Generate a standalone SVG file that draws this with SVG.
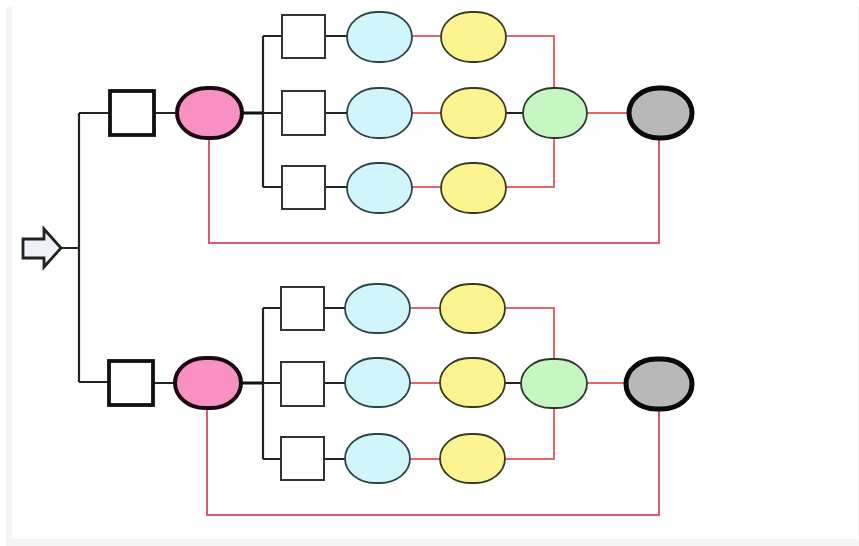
<svg xmlns="http://www.w3.org/2000/svg" width="859" height="546" viewBox="0 0 859 546">
<style>
.blk{fill:none;stroke:#222;stroke-width:2.2}
.thk{fill:none;stroke:#111;stroke-width:3}
.red{fill:none;stroke:#e06868;stroke-width:2}
.loop{fill:none;stroke:#d0606c;stroke-width:2}
.sq{fill:#fff;stroke:#333;stroke-width:2}
.bsq{fill:#fff;stroke:#111;stroke-width:3.8}
.pink{fill:#f890c4;stroke:#1a0810;stroke-width:4}
.cyan{fill:#d0f5fb;stroke:#2a4448;stroke-width:1.8}
.yel{fill:#fcf490;stroke:#3a3820;stroke-width:1.8}
.grn{fill:#c6f7c2;stroke:#2a3a2a;stroke-width:1.8}
.gry{fill:#b8b8b8;stroke:#0a0a0a;stroke-width:5}
</style>
<rect x="6" y="7" width="853" height="539" fill="#f0f0f0"/>
<rect x="6" y="7" width="853" height="539" fill="#f5f5f5"/>
<rect x="12" y="7" width="846" height="532" fill="#ffffff"/>
<g id="connectors">
<path class="blk" d="M62 248H79M79 113V382M79 113H110M79 382H109"/>
<path class="blk" d="M154 113H177M153 383H175"/>
<path class="thk" d="M242 113H263M242 383H263"/>
<path class="blk" d="M263 36V187M263 36H282M263 113H282M263 187H282"/>
<path class="blk" d="M263 308V459M263 308H281M263 383H281M263 459H281"/>
<path class="blk" d="M325 36H347M325 113H347M325 187H347M324 308H345M324 383H345M324 459H345"/>
<path class="red" d="M412 36H441M412 113H441M412 187H441M410 308H440M410 383H440M410 459H440"/>
<path class="red" d="M506 36H554V87M506 187H554V137M505 308H554V359M505 459H554V408"/>
<path class="blk" d="M506 113H523M505 383H521"/>
<path class="red" d="M587 113H629M587 383H626"/>
<path class="loop" d="M209 138V243H659V139M207 408V515H659V410"/>
</g>
<g id="arrow"><path d="M23 239H44V229L61 248L44 267V258H23Z" fill="#eef2f8" stroke="#222" stroke-width="2.8" stroke-linejoin="miter"/></g>
<g id="sq1"><rect class="bsq" x="110" y="91" width="44" height="44"/></g>
<g id="pink1"><rect class="pink" x="177" y="88" width="65" height="50" rx="30" ry="25"/></g>
<g id="s11"><rect class="sq" x="282" y="15" width="43" height="43"/></g>
<g id="s12"><rect class="sq" x="282" y="91" width="43" height="44"/></g>
<g id="s13"><rect class="sq" x="282" y="166" width="43" height="43"/></g>
<g id="c11"><rect class="cyan" x="347" y="12" width="65" height="50" rx="30" ry="25"/></g>
<g id="c12"><rect class="cyan" x="347" y="88" width="65" height="50" rx="30" ry="25"/></g>
<g id="c13"><rect class="cyan" x="347" y="163" width="65" height="50" rx="30" ry="25"/></g>
<g id="y11"><rect class="yel" x="441" y="12" width="65" height="50" rx="30" ry="25"/></g>
<g id="y12"><rect class="yel" x="441" y="88" width="65" height="50" rx="30" ry="25"/></g>
<g id="y13"><rect class="yel" x="441" y="163" width="65" height="50" rx="30" ry="25"/></g>
<g id="g1"><rect class="grn" x="523" y="88" width="64" height="50" rx="30" ry="25"/></g>
<g id="gr1"><rect class="gry" x="629" y="88" width="63" height="50" rx="30" ry="25"/></g>
<g id="sq2"><rect class="bsq" x="109" y="361" width="44" height="44"/></g>
<g id="pink2"><rect class="pink" x="175" y="358" width="66" height="50" rx="30" ry="25"/></g>
<g id="s21"><rect class="sq" x="281" y="287" width="43" height="43"/></g>
<g id="s22"><rect class="sq" x="281" y="362" width="43" height="44"/></g>
<g id="s23"><rect class="sq" x="281" y="437" width="43" height="43"/></g>
<g id="c21"><rect class="cyan" x="345" y="284" width="65" height="49" rx="30" ry="25"/></g>
<g id="c22"><rect class="cyan" x="345" y="358" width="65" height="49" rx="30" ry="25"/></g>
<g id="c23"><rect class="cyan" x="345" y="434" width="65" height="49" rx="30" ry="25"/></g>
<g id="y21"><rect class="yel" x="440" y="284" width="65" height="49" rx="30" ry="25"/></g>
<g id="y22"><rect class="yel" x="440" y="358" width="65" height="49" rx="30" ry="25"/></g>
<g id="y23"><rect class="yel" x="440" y="434" width="65" height="49" rx="30" ry="25"/></g>
<g id="g2"><rect class="grn" x="521" y="359" width="66" height="49" rx="30" ry="25"/></g>
<g id="gr2"><rect class="gry" x="626" y="359" width="66" height="50" rx="30" ry="25"/></g>
</svg>
